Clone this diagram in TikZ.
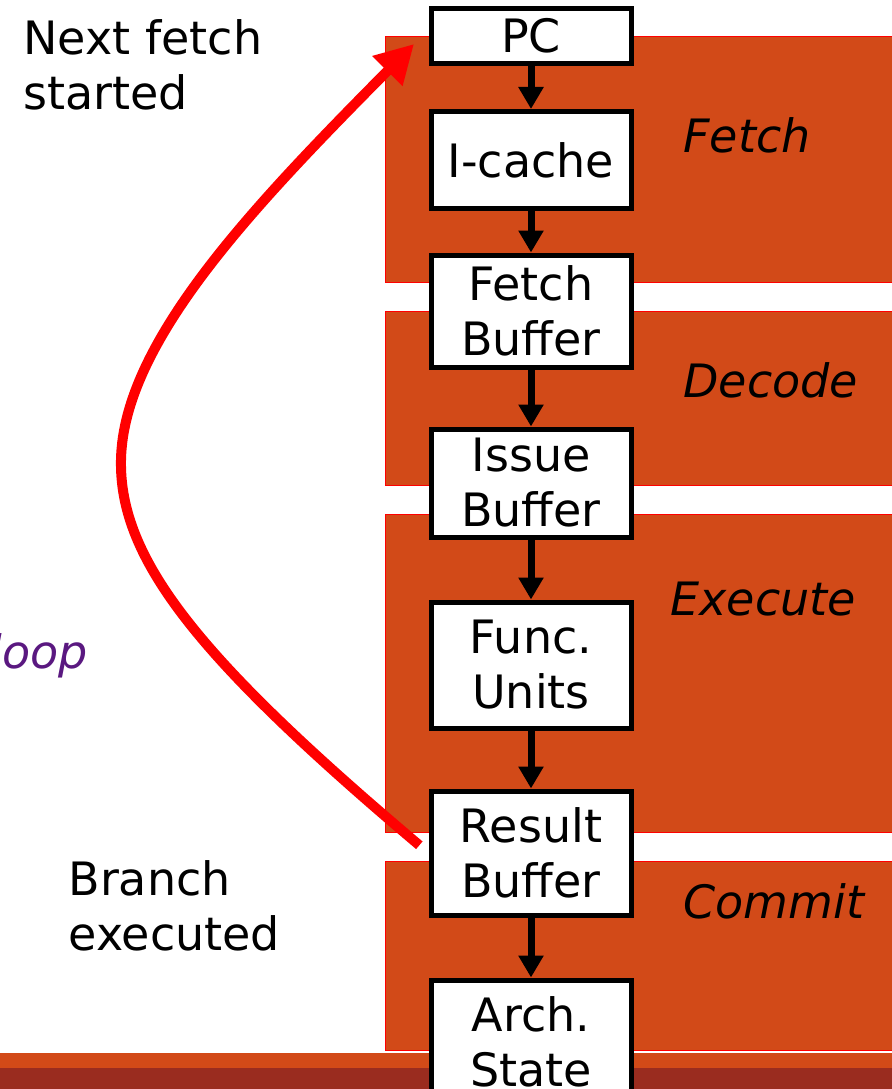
\documentclass[tikz,border=0pt]{standalone}
\usepackage{fontspec}
\setmainfont{DejaVu Sans}
\usetikzlibrary{arrows.meta}
\definecolor{stagefill}{HTML}{D24A18}
\definecolor{stripdark}{HTML}{9A2C1F}
\definecolor{loopviolet}{HTML}{5A1880}
\tikzset{
    unitbox/.style={draw, line width=5pt, fill=white, minimum width=200pt, align=center,
        inner sep=0pt, font=\fontsize{46}{55}\selectfont},
    stagebox/.style={fill=stagefill, draw=red, line width=1pt},
    flow/.style={line width=7pt, -{Triangle[length=22pt,width=24pt]}},
    bigtext/.style={anchor=base west, font=\fontsize{46}{55}\selectfont},
}
\begin{document}
\begin{tikzpicture}[x=1pt,y=-1pt]
        \useasboundingbox (0,0) rectangle (891,1089);
        % pipeline stages
        \draw[stagebox] (385,37) rectangle (900,282);
        \draw[stagebox] (385,311) rectangle (900,485);
        \draw[stagebox] (385,514) rectangle (900,832);
        \draw[stagebox] (385,861) rectangle (900,1050);
        \fill[stagefill] (-5,1053) rectangle (900,1068);
        \fill[stripdark] (-5,1068) rectangle (900,1095);

        \node[bigtext, font=\fontsize{46}{55}\itshape] at (680,152) {Fetch};
        \node[bigtext, font=\fontsize{46}{55}\itshape] at (680,397) {Decode};
        \node[bigtext, font=\fontsize{46}{55}\itshape] at (667,615) {Execute};
        \node[bigtext, font=\fontsize{46}{55}\itshape] at (680,918) {Commit};

        % boxes
        \node[unitbox, minimum height=55pt] (pc) at (531,36) {PC};
        \node[unitbox, minimum height=97pt] (icache) at (531,160) {I-cache};
        \node[unitbox, minimum height=112pt] (fbuf) at (531,311) {Fetch\\Buffer};
        \node[unitbox, minimum height=108pt] (ibuf) at (531,483) {Issue\\Buffer};
        \node[unitbox, minimum height=126pt] (fu) at (531,665) {Func.\\Units};
        \node[unitbox, minimum height=124pt] (rbuf) at (531,853) {Result\\Buffer};
        \node[unitbox, minimum height=124pt] (arch) at (531,1042) {Arch.\\State};

        \draw[flow] (pc) -- (icache);
        \draw[flow] (icache) -- (fbuf);
        \draw[flow] (fbuf) -- (ibuf);
        \draw[flow] (ibuf) -- (fu);
        \draw[flow] (fu) -- (rbuf);
        \draw[flow] (rbuf) -- (arch);

        % redirect
        \coordinate (bend) at (121,460);
        \coordinate (nexttip) at (414,44);
        \draw[red, line width=10pt, shorten <=12pt, -{Triangle[length=38pt,width=40pt]}]
            (rbuf.west) .. controls (200,660) and (119,560) .. (bend)
            .. controls (123,340) and (260,200) .. (nexttip);

        \node[bigtext] at (20,55) {Next fetch};
        \node[bigtext] at (20,110) {started};
        \node[bigtext] at (65,895) {Branch};
        \node[bigtext] at (65,950) {executed};
        \node[bigtext, text=loopviolet, font=\fontsize{46}{55}\itshape] at (-14,668) {loop};
    \end{tikzpicture}
\end{document}
